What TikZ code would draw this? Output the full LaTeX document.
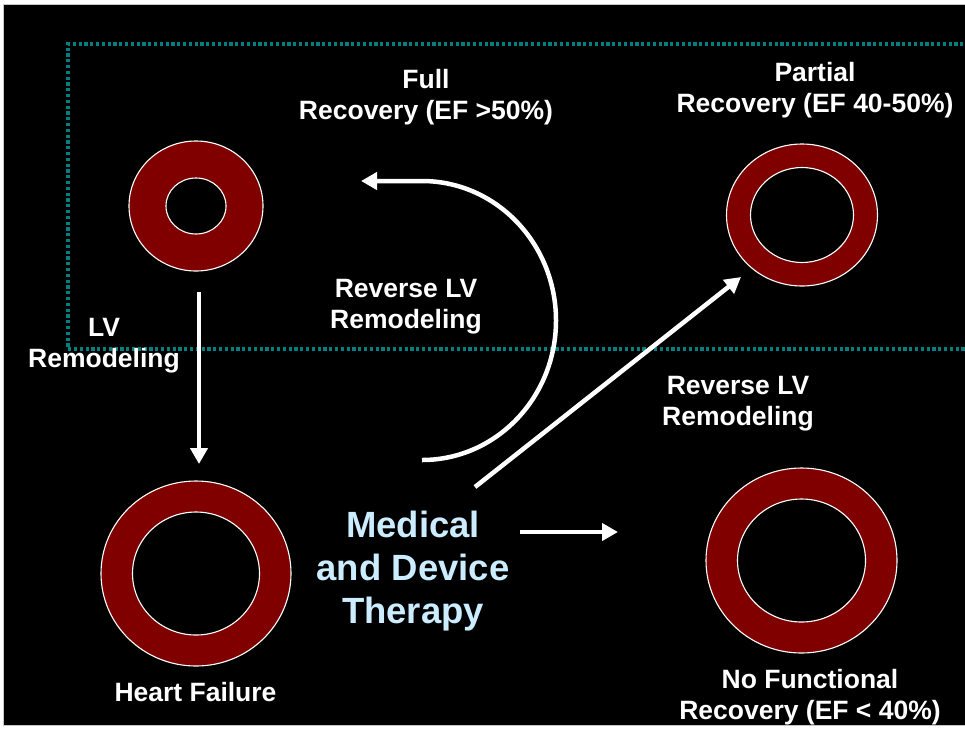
\documentclass[tikz,border=0pt]{standalone}
\usepackage{fontspec}
\setmainfont{Liberation Sans}
\usetikzlibrary{arrows.meta}

\definecolor{ringred}{RGB}{128,0,0}
\definecolor{boxteal}{RGB}{0,128,128}
\definecolor{therapyblue}{RGB}{204,236,255}

\tikzset{
  ring/.style={fill=ringred, draw=white, line width=1.1pt, even odd rule},
  label/.style={text=white, align=center, inner sep=0pt,
    font=\fontsize{26.5}{31}\selectfont\bfseries},
  flow/.style={draw=white, line width=4.5pt,
    -{Triangle[length=16pt, width=17pt]}},
  region/.style={draw=boxteal, line width=3.4pt, dash pattern=on 3.2pt off 2.6pt}
}

\begin{document}
\begin{tikzpicture}[x=1pt, y=-1pt]
  % canvas: white page with a black slide
  \clip (0,0) rectangle (965,729);
  \fill[white] (0,0) rectangle (965,729);
  \fill[black, draw=gray!45, line width=0.8pt] (3,4) rectangle (966,725);

  % dotted region round the recovered states
  \draw[region] (975,44) -- (68,44) -- (68,349) -- (975,349);

  % ventricle cross-sections
  \coordinate (normal) at (196,206);
  \coordinate (partial) at (802,215);
  \coordinate (failing) at (196,573.5);
  \coordinate (nonrec) at (801.5,560.5);

  \path[ring] (normal) ellipse [x radius=67, y radius=65]
              (normal) ellipse [x radius=30, y radius=28];
  \path[ring] (partial) ellipse [x radius=75.5, y radius=71]
              (partial) ellipse [x radius=51.5, y radius=47.5];
  \path[ring] (failing) ellipse [x radius=95, y radius=92.5]
              (failing) ellipse [x radius=63.5, y radius=61.5];
  \path[ring] (nonrec) ellipse [x radius=95.5, y radius=92.5]
              (nonrec) ellipse [x radius=64, y radius=61.5];

  % labels
  \node[label] (fullrec) at (426,97) {Full\\Recovery (EF >50\%)};
  \node[label] (partrec) at (815,90) {Partial\\Recovery (EF 40-50\%)};
  \node[label] (revA) at (406,307) {Reverse LV\\Remodeling};
  \node[label] (revB) at (738,404) {Reverse LV\\Remodeling};
  \node[label] (lvrem) at (104,346) {LV\\Remodeling};
  \node[label] (hf) at (195.5,692.5) {Heart Failure};
  \node[label] (norec) at (810,697) {No Functional\\Recovery (EF < 40\%)};
  \node[label, text=therapyblue, font=\fontsize{36.5}{43}\selectfont\bfseries]
    (therapy) at (413,571) {Medical\\and Device\\Therapy};

  % transitions
  \coordinate (lvTop) at (199,292);
  \coordinate (lvEnd) at (199,464);
  \draw[flow] (lvTop) -- (lvEnd);

  \coordinate (arcStart) at (422,460);
  \coordinate (arcEnd) at (361,181);
  \draw[flow] (arcStart) arc[start angle=-90, end angle=90,
      x radius=134pt, y radius=139.5pt] -- (arcEnd);

  \coordinate (diagStart) at (475,487);
  \coordinate (diagEnd) at (741,277);
  \draw[flow] (diagStart) -- (diagEnd);

  \coordinate (horStart) at (520,532);
  \coordinate (horEnd) at (618,532);
  \draw[flow] (horStart) -- (horEnd);
\end{tikzpicture}
\end{document}
